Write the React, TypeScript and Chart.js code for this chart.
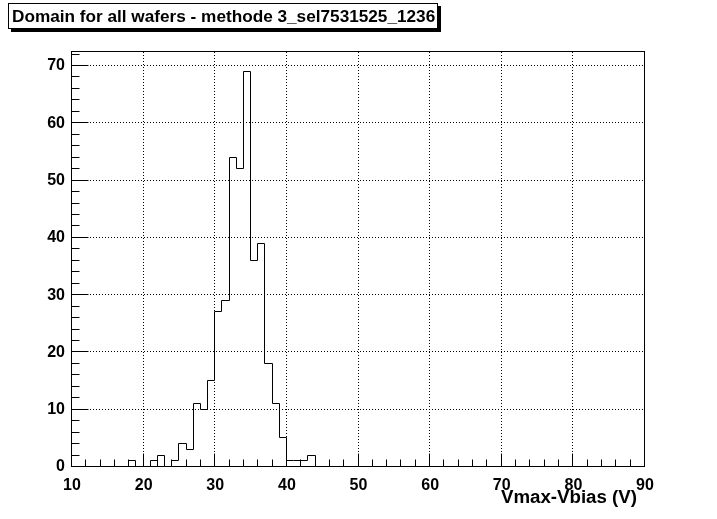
import { useEffect, useRef } from "react";
import { Chart, registerables } from "chart.js";

Chart.register(...registerables);

const TITLE = "Domain for all wafers - methode 3_sel7531525_1236";
const X_TITLE = "Vmax-Vbias (V)";
const X_MIN = 10;
const X_MAX = 90;
const BIN_WIDTH = 1;
const Y_MIN = 0;
const Y_MAX = 72.45;
const X_TICK_STEP = 10;
const Y_TICK_STEP = 10;
const MINOR_STEP = 2;

// entries per 1 V bin, bins [10,11) ... [89,90)
const counts = [
  0, 0, 0, 0, 0, 0, 0, 0, 1, 0,
  0, 1, 2, 0, 1, 4, 3, 11, 10, 15,
  27, 29, 54, 52, 69, 36, 39, 18, 11, 5,
  1, 1, 1, 2, 0, 0, 0, 0, 0, 0,
  0, 0, 0, 0, 0, 0, 0, 0, 0, 0,
  0, 0, 0, 0, 0, 0, 0, 0, 0, 0,
  0, 0, 0, 0, 0, 0, 0, 0, 0, 0,
  0, 0, 0, 0, 0, 0, 0, 0, 0, 0,
];

const FONT = "'Liberation Sans', Arial, Helvetica, sans-serif";
const snap = (p: number) => Math.round(p) - 0.5;

const rootPlugin = {
  id: "rootStyle",
  beforeDraw(chart: any) {
    const ctx = chart.ctx;
    ctx.save();
    ctx.fillStyle = "#ffffff";
    ctx.fillRect(0, 0, chart.width, chart.height);
    ctx.restore();
  },
  afterDatasetsUpdate(chart: any) {
    const meta = chart.getDatasetMeta(0);
    meta.data.forEach((pt: any) => {
      pt.x = snap(pt.x);
      pt.y = snap(pt.y);
    });
  },
  beforeDatasetsDraw(chart: any) {
    const { ctx, chartArea: a, scales } = chart;
    const xs = scales.x;
    const ys = scales.y;
    ctx.save();
    ctx.strokeStyle = "#000";
    ctx.lineWidth = 1;
    ctx.setLineDash([1, 2]);
    for (let v = X_MIN + X_TICK_STEP; v < X_MAX; v += X_TICK_STEP) {
      const px = snap(xs.getPixelForValue(v));
      ctx.beginPath();
      ctx.moveTo(px, a.top);
      ctx.lineTo(px, a.bottom);
      ctx.stroke();
    }
    for (let v = Y_MIN + Y_TICK_STEP; v < Y_MAX; v += Y_TICK_STEP) {
      const py = snap(ys.getPixelForValue(v));
      ctx.beginPath();
      ctx.moveTo(a.left, py);
      ctx.lineTo(a.right, py);
      ctx.stroke();
    }
    ctx.restore();
  },
  afterDatasetsDraw(chart: any) {
    const { ctx, chartArea: a, scales } = chart;
    const xs = scales.x;
    const ys = scales.y;
    const L = snap(a.left), R = snap(a.right), T = snap(a.top), B = snap(a.bottom);
    ctx.save();
    ctx.strokeStyle = "#000";
    ctx.lineWidth = 1;
    ctx.setLineDash([]);
    ctx.strokeRect(L, T, R - L, B - T);
    ctx.beginPath();
    for (let v = X_MIN; v <= X_MAX; v += MINOR_STEP) {
      const px = snap(xs.getPixelForValue(v));
      const len = v % X_TICK_STEP === 0 ? 13 : 7;
      ctx.moveTo(px, B);
      ctx.lineTo(px, B - len);
    }
    for (let v = Y_MIN; v <= Y_MAX; v += MINOR_STEP) {
      const py = snap(ys.getPixelForValue(v));
      const len = v % Y_TICK_STEP === 0 ? 17 : 8;
      ctx.moveTo(L, py);
      ctx.lineTo(L + len, py);
    }
    ctx.stroke();
    ctx.restore();
  },
  afterDraw(chart: any) {
    const { ctx, chartArea: a } = chart;
    ctx.save();
    // title box with shadow
    const bx = 8, by = 3, bw = 430, bh = 26;
    ctx.fillStyle = "#000";
    ctx.fillRect(bx + 3, by + 3, bw, bh);
    ctx.fillStyle = "#fff";
    ctx.fillRect(bx, by, bw, bh);
    ctx.strokeStyle = "#000";
    ctx.lineWidth = 1;
    ctx.strokeRect(bx + 0.5, by + 0.5, bw - 1, bh - 1);
    ctx.fillStyle = "#000";
    ctx.font = `bold 17.2px ${FONT}`;
    ctx.textAlign = "left";
    ctx.textBaseline = "middle";
    ctx.fillText(TITLE, 12, by + bh / 2 + 1);
    // x axis title
    ctx.font = `bold 18.7px ${FONT}`;
    ctx.textAlign = "right";
    ctx.textBaseline = "middle";
    ctx.fillText(X_TITLE, a.right - 8, 498);
    ctx.restore();
  },
};

export default function App() {
  const ref = useRef<HTMLCanvasElement | null>(null);

  useEffect(() => {
    const canvas = ref.current;
    if (!canvas) return;
    const points = counts.map((c, i) => ({ x: X_MIN + i * BIN_WIDTH, y: c }));
    points.push({ x: X_MAX, y: counts[counts.length - 1] });

    const chart = new Chart(canvas, {
      type: "line",
      data: {
        datasets: [
          {
            data: points,
            stepped: true,
            borderColor: "#000",
            borderWidth: 1,
            pointRadius: 0,
            fill: false,
            tension: 0,
          } as any,
        ],
      },
      options: {
        animation: false,
        responsive: false,
        maintainAspectRatio: false,
        events: [],
        layout: { padding: { left: 0, right: 72, top: 52, bottom: 0 } },
        plugins: {
          legend: { display: false },
          title: { display: false },
          tooltip: { enabled: false },
        },
        scales: {
          x: {
            type: "linear",
            min: X_MIN,
            max: X_MAX,
            grid: { display: false, drawTicks: false },
            border: { display: false },
            ticks: {
              stepSize: X_TICK_STEP,
              autoSkip: false,
              maxRotation: 0,
              includeBounds: false,
              padding: 9,
              color: "#000",
              font: { family: FONT, weight: "bold", size: 16 },
            },
            afterFit: (s: any) => {
              s.height = 52;
            },
          },
          y: {
            type: "linear",
            min: Y_MIN,
            max: Y_MAX,
            grid: { display: false, drawTicks: false },
            border: { display: false },
            ticks: {
              stepSize: Y_TICK_STEP,
              includeBounds: false,
              padding: 7,
              color: "#000",
              font: { family: FONT, weight: "bold", size: 16 },
            },
            afterFit: (s: any) => {
              s.width = 72;
            },
          },
        },
      } as any,
      plugins: [rootPlugin],
    });
    return () => chart.destroy();
  }, []);

  return (
    <div style={{ position: "fixed", left: 0, top: 0, width: 717, height: 519, background: "#fff" }}>
      <canvas ref={ref} width={717} height={519} style={{ display: "block", width: 717, height: 519 }} />
    </div>
  );
}
